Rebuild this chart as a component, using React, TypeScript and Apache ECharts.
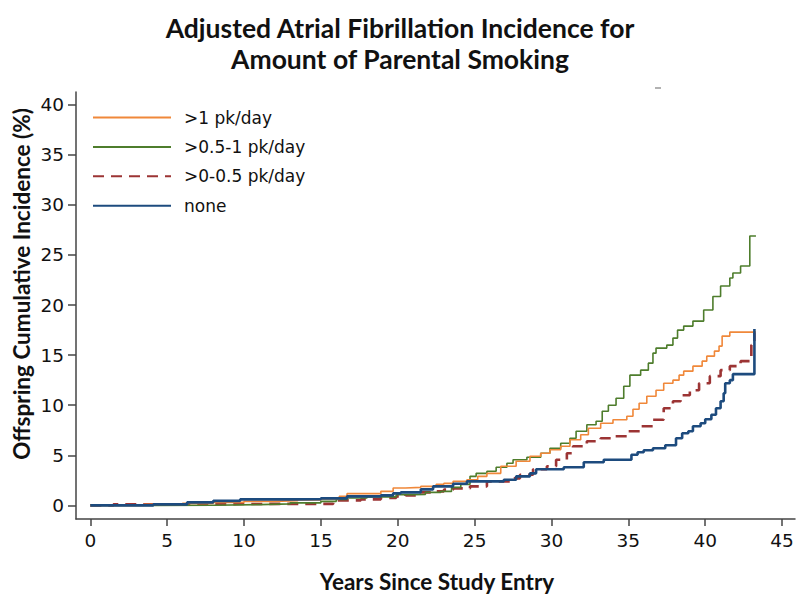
import React, { useEffect, useRef } from "react";
import * as echarts from "echarts";

const titleLine1 = "Adjusted Atrial Fibrillation Incidence for";
const titleLine2 = "Amount of Parental Smoking";
const xTitle = "Years Since Study Entry";
const yTitle = "Offspring Cumulative Incidence (%)";
const xTicks = [0, 5, 10, 15, 20, 25, 30, 35, 40, 45];
const yTicks = [0, 5, 10, 15, 20, 25, 30, 35, 40];
const seriesNames = [">1 pk/day", ">0.5-1 pk/day", ">0-0.5 pk/day", "none"];

const heavyX = [0, 3.5, 6, 8, 10, 11.9, 13.5, 15, 16.2, 16.7, 18.9, 19.7, 20.5, 21.5, 22.5, 23.0, 23.6, 24.5, 25.2, 25.8, 26.7, 27.7, 28.6, 29.3, 29.9, 30.6, 31.2, 31.9, 32.4, 33.2, 34.0, 34.9, 35.3, 35.7, 36.2, 36.8, 37.3, 37.9, 38.3, 38.6, 39.2, 39.8, 40.1, 40.6, 40.9, 41.1, 41.6, 43.3];
const heavyY = [0, 0.1, 0.2, 0.3, 0.4, 0.47, 0.55, 0.65, 0.9, 1.17, 1.4, 1.73, 1.8, 1.9, 2.1, 2.2, 2.4, 2.55, 2.9, 3.2, 3.9, 4.4, 4.9, 5.2, 5.55, 5.9, 6.55, 7.05, 7.7, 8.2, 8.55, 8.9, 9.6, 10.2, 10.9, 11.5, 12.2, 12.5, 13.0, 13.4, 13.9, 14.4, 14.9, 15.4, 15.9, 16.9, 17.3, 17.3];

const midX = [0, 4, 8, 11, 13, 15, 16, 16.7, 18, 19.9, 21, 21.8, 22.8, 23.5, 24.1, 24.7, 25.1, 25.8, 26.4, 27.1, 27.5, 28.4, 29.3, 29.9, 30.6, 31.2, 31.6, 32.3, 32.9, 33.3, 33.7, 34.2, 34.7, 35.1, 35.8, 36.3, 36.6, 36.8, 37.5, 37.9, 38.2, 38.6, 39.2, 39.9, 40.5, 41.0, 41.6, 41.8, 42.3, 42.9, 43.3];
const midY = [0, 0.02, 0.08, 0.15, 0.25, 0.4, 0.6, 0.74, 0.85, 1.07, 1.1, 1.3, 1.4, 1.8, 2.1, 2.9, 3.2, 3.4, 3.8, 4.2, 4.55, 4.8, 5.2, 5.7, 6.2, 6.7, 7.4, 8.05, 8.4, 9.4, 10.0, 10.7, 11.9, 13.0, 13.5, 14.2, 15.2, 15.7, 16.0, 16.7, 17.5, 17.9, 18.4, 19.5, 20.85, 21.9, 22.7, 23.2, 23.9, 26.9, 26.9];

const lightX = [0, 1.5, 4, 8, 12, 15.8, 17.6, 18.9, 19.9, 20.5, 21.5, 22.3, 23.0, 23.6, 24.7, 25.8, 26.9, 27.4, 27.95, 28.8, 29.7, 30.3, 31.0, 31.4, 32.3, 33.2, 34.0, 34.9, 35.8, 36.6, 37.3, 37.9, 38.4, 39.0, 39.6, 40.3, 41.0, 41.6, 42.3, 43.0, 43.2];
const lightY = [0, 0.1, 0.12, 0.15, 0.15, 0.5, 0.6, 0.75, 0.9, 1.0, 1.3, 1.4, 1.57, 1.7, 1.9, 2.4, 2.4, 2.7, 3.06, 3.6, 3.9, 4.55, 5.2, 5.9, 6.4, 6.7, 6.9, 7.4, 7.9, 8.55, 9.7, 10.4, 11.0, 11.5, 12.2, 12.9, 13.5, 13.9, 14.4, 16.0, 17.2];

const noneX = [0, 4.1, 6.3, 8, 9.75, 13.2, 15, 16.7, 18.9, 19.7, 20.2, 21.5, 22.3, 23.6, 24.5, 26.9, 27.7, 28.6, 29.0, 30.8, 32.1, 33.4, 35.2, 35.6, 36.0, 36.6, 37.4, 38.1, 38.5, 38.9, 39.2, 39.7, 40.0, 40.4, 40.7, 41.0, 41.2, 41.3, 41.6, 41.8, 43.2];
const noneY = [0, 0.1, 0.3, 0.45, 0.6, 0.62, 0.7, 0.9, 1.0, 1.2, 1.3, 1.6, 1.9, 2.16, 2.4, 2.56, 2.9, 3.2, 3.6, 3.8, 4.3, 4.55, 5.06, 5.3, 5.5, 5.7, 6.0, 6.7, 7.2, 7.4, 7.9, 8.2, 8.6, 9.05, 9.7, 10.4, 11.2, 12.2, 12.5, 13.1, 17.6];

const seriesColors = ["#F0883A", "#4E7D2C", "#9C3434", "#1D4B7E"];

function zip(xs: number[], ys: number[]) {
  return xs.map((x, i) => [x, ys[i]]);
}

export default function App() {
  const ref = useRef<HTMLDivElement>(null);
  useEffect(() => {
    if (!ref.current) return;
    const chart = echarts.init(ref.current, null, { renderer: "svg" });
    const datasets = [zip(heavyX, heavyY), zip(midX, midY), zip(lightX, lightY), zip(noneX, noneY)];
    const widths = [1.6, 1.6, 2.6, 2.6];
    const types: any[] = ["solid", "solid", [11, 7], "solid"];
    const zs = [4, 3, 2, 5];
    const titleStyle = {
      fontFamily: "Lato",
      fontWeight: "bold",
      fontSize: 26.5,
      fill: "#111111",
      align: "center",
      verticalAlign: "middle",
    };
    chart.setOption({
      animation: false,
      backgroundColor: "#ffffff",
      legend: {
        orient: "vertical",
        left: 92,
        top: 109,
        padding: 0,
        itemWidth: 78,
        itemHeight: 20,
        itemGap: 12.4,
        data: seriesNames,
        itemStyle: { opacity: 0 },
        textStyle: {
          fontFamily: "DejaVu Sans",
          fontSize: 17,
          color: "#111111",
          padding: [0, 0, 0, 8],
        },
      },
      grid: { left: 76, right: 5, top: 92, bottom: 77 },
      xAxis: {
        type: "value",
        min: -0.93,
        max: 45.84,
        axisLine: { onZero: false, lineStyle: { color: "#444444", width: 1.5 } },
        axisTick: { customValues: xTicks, length: 7, lineStyle: { color: "#444444", width: 1.5 } },
        axisLabel: {
          customValues: xTicks,
          margin: 12,
          fontFamily: "DejaVu Sans",
          fontSize: 18.5,
          color: "#111111",
        },
        splitLine: { show: false },
      },
      yAxis: {
        type: "value",
        min: -1.36,
        max: 41.27,
        axisLine: { show: true, onZero: false, lineStyle: { color: "#444444", width: 1.5 } },
        axisTick: { show: true, customValues: yTicks, length: 8, lineStyle: { color: "#444444", width: 1.5 } },
        axisLabel: {
          customValues: yTicks,
          margin: 12,
          fontFamily: "DejaVu Sans",
          fontSize: 18.5,
          color: "#111111",
        },
        splitLine: { show: false },
      },
      graphic: [
        { type: "text", x: 400, y: 28, style: { ...titleStyle, text: titleLine1 } },
        { type: "text", x: 400, y: 59, style: { ...titleStyle, text: titleLine2 } },
        {
          type: "text",
          x: 437,
          y: 581,
          style: {
            text: xTitle,
            fontFamily: "Lato",
            fontWeight: "bold",
            fontSize: 22.5,
            fill: "#111111",
            align: "center",
            verticalAlign: "middle",
          },
        },
        {
          type: "text",
          x: 21,
          y: 284,
          rotation: Math.PI / 2,
          style: {
            text: yTitle,
            fontFamily: "Lato",
            fontWeight: "bold",
            fontSize: 22.5,
            fill: "#111111",
            align: "center",
            verticalAlign: "middle",
          },
        },
        {
          type: "line",
          shape: { x1: 655, y1: 88, x2: 661, y2: 88 },
          style: { stroke: "#999999", lineWidth: 1.5 },
        },
      ],
      series: seriesNames.map((name, i) => ({
        name,
        type: "line",
        step: "end",
        symbol: "none",
        z: zs[i],
        data: datasets[i],
        color: seriesColors[i],
        lineStyle: { color: seriesColors[i], width: widths[i], type: types[i] },
      })),
    });
    return () => chart.dispose();
  }, []);
  return <div ref={ref} style={{ width: 800, height: 596, position: "absolute", left: 0, top: 0 }} />;
}
